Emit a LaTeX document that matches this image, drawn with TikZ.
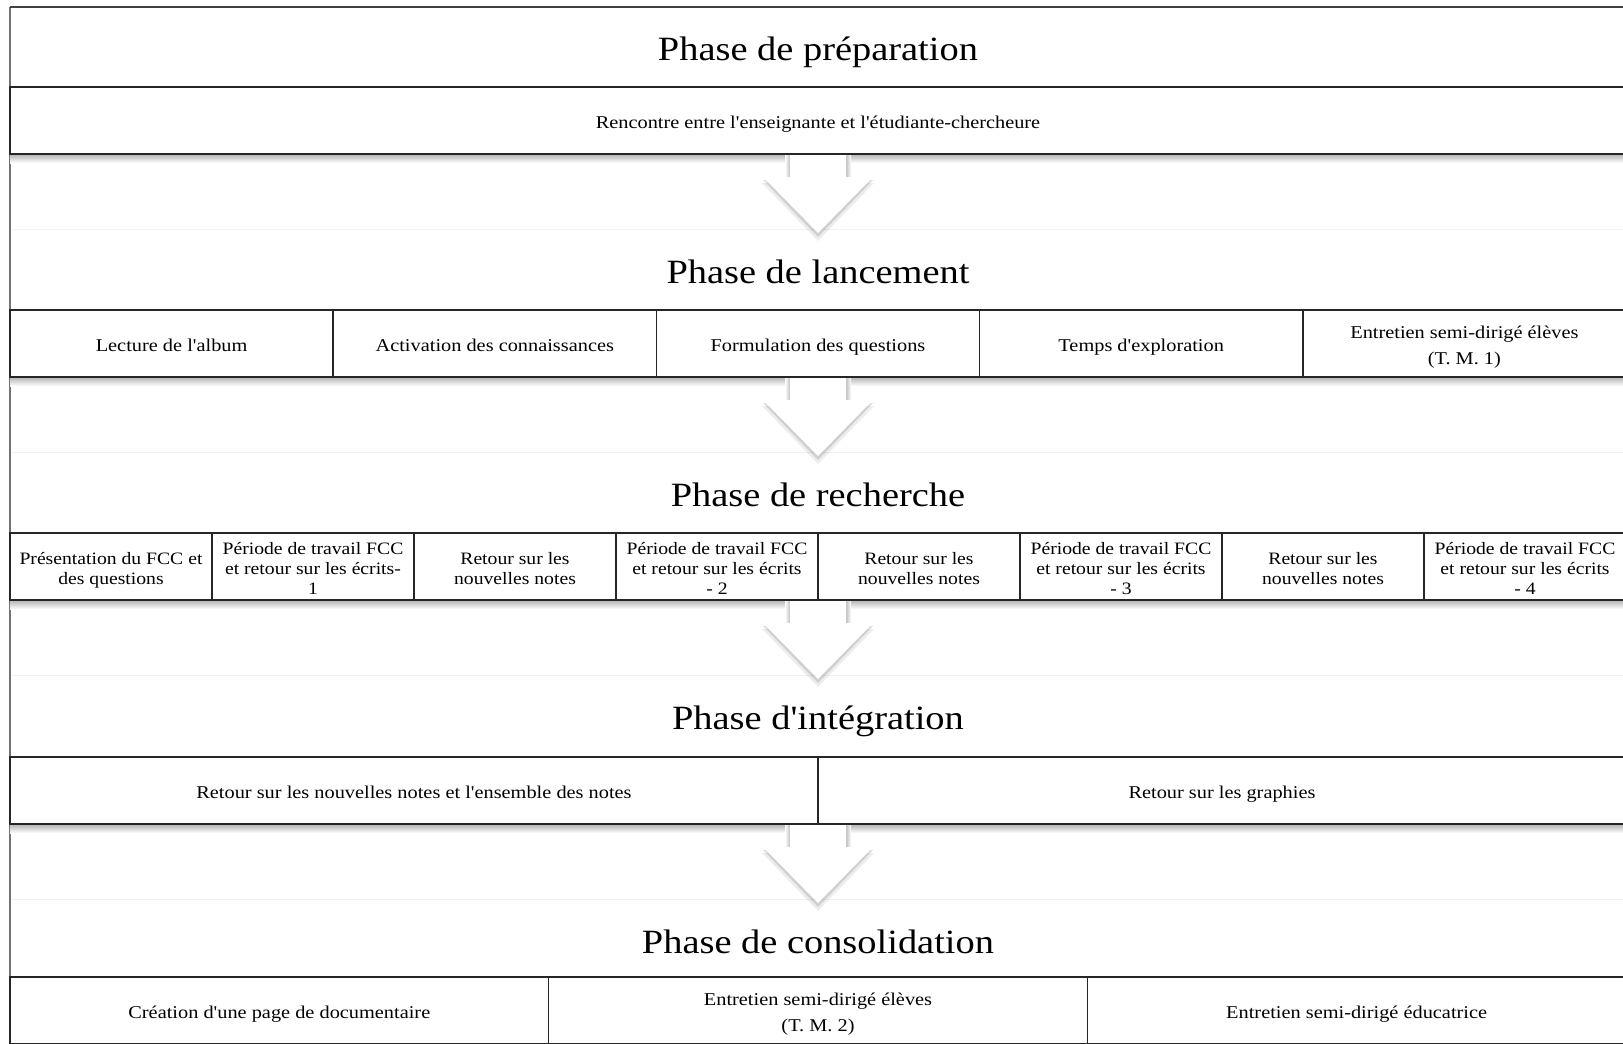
\documentclass[tikz,border=0pt]{standalone}
\usepackage{fontspec}
\setmainfont{Liberation Serif}[Ligatures=TeXOff, FakeStretch=1.13]
\begin{document}
\begin{tikzpicture}[x=1pt,y=-1pt,
  cellbase/.style={draw=black!85, line width=1.6pt, anchor=north west, minimum height=67pt,
    inner sep=0pt, outer sep=0pt, align=center, font=\fontsize{18}{20.3}\selectfont},
  cellh/.style={cellbase, execute at begin node={\rule{0pt}{#1}}, execute at end node={\rule[-5pt]{0pt}{5pt}}},
  cell/.style={cellh=21pt},
  twowide/.style={cellh=47.3pt},
  twonarrow/.style={cellh=41.3pt, small},
  three/.style={cellh=61.6pt, small},
  small/.style={font=\fontsize{17.4}{20.3}\selectfont},
  phasetitle/.style={font=\fontsize{34}{40}\selectfont, inner sep=0pt, text height=23pt, text depth=0pt},
  boxshadow/.style={top color=black!30, bottom color=white, draw=none},
]
\useasboundingbox (0,0) rectangle (1623,1044);
\fill[white] (0,0) rectangle (1623,1044);

% faint guide lines
\foreach \yy in {229,452,675,899}
  \draw[black!5, line width=1pt] (10,\yy) -- (1626,\yy);

% left frame line and top line
\draw[black!55, line width=1.5pt] (10,7) -- (10,1044);
\draw[black!75, line width=1.3pt] (10,7) -- (1626,7);

% shadows below rows
\foreach \yy in {154,377,600,824}
  \shade[boxshadow] (10,\yy) rectangle (1626,\yy+9);

% titles
\node[phasetitle] (t1) at (818,49) {Phase de préparation};
\node[phasetitle] (t2) at (818,272) {Phase de lancement};
\node[phasetitle] (t3) at (818,495) {Phase de recherche};
\node[phasetitle] (t4) at (818,718) {Phase d'intégration};
\node[phasetitle] (t5) at (818,942) {Phase de consolidation};

% row 1
\node[cell, minimum width=1616pt] (r1) at (10,87) {Rencontre entre l'enseignante et l'étudiante-chercheure};

% row 2
\node[cell, minimum width=323.2pt] (r2a) at (10,310) {Lecture de l'album};
\node[cell, minimum width=323.2pt] (r2b) at (333.2,310) {Activation des connaissances};
\node[cell, minimum width=323.2pt] (r2c) at (656.4,310) {Formulation des questions};
\node[cell, minimum width=323.2pt] (r2d) at (979.6,310) {Temps d'exploration};
\node[twowide, minimum width=323.2pt] (r2e) at (1302.8,310) {Entretien semi-dirigé élèves\\[6pt](T. M. 1)};

% row 3
\node[twonarrow, minimum width=202pt] (r3a) at (10,533) {Présentation du FCC et\\des questions};
\node[three, minimum width=202pt] (r3b) at (212,533) {Période de travail FCC\\et retour sur les écrits-\\1};
\node[twonarrow, minimum width=202pt] (r3c) at (414,533) {Retour sur les\\nouvelles notes};
\node[three, minimum width=202pt] (r3d) at (616,533) {Période de travail FCC\\et retour sur les écrits\\- 2};
\node[twonarrow, minimum width=202pt] (r3e) at (818,533) {Retour sur les\\nouvelles notes};
\node[three, minimum width=202pt] (r3f) at (1020,533) {Période de travail FCC\\et retour sur les écrits\\- 3};
\node[twonarrow, minimum width=202pt] (r3g) at (1222,533) {Retour sur les\\nouvelles notes};
\node[three, minimum width=202pt] (r3h) at (1424,533) {Période de travail FCC\\et retour sur les écrits\\- 4};

% row 4
\node[cell, minimum width=808pt] (r4a) at (10,757) {Retour sur les nouvelles notes et l'ensemble des notes};
\node[cell, minimum width=808pt] (r4b) at (818,757) {Retour sur les graphies};

% row 5
\node[cell, minimum width=538.67pt] (r5a) at (10,977) {Création d'une page de documentaire};
\node[twowide, minimum width=538.67pt] (r5b) at (548.67,977) {Entretien semi-dirigé élèves\\[6pt](T. M. 2)};
\node[cell, minimum width=538.67pt] (r5c) at (1087.33,977) {Entretien semi-dirigé éducatrice};

% block arrows between phases
\coordinate (a1) at (r1.south);
\coordinate (a2) at (r2c.south);
\coordinate (a3) at (r3d.south east);
\coordinate (a4) at (r4a.south east);
\foreach \a in {a1,a2,a3,a4}{
  \begin{scope}[shift={(\a)}]
    \fill[black, opacity=.07] (-56,29) -- (56,29) -- (0,87) -- cycle;
    \fill[black, opacity=.12] (-55,26) -- (55,26) -- (0,83) -- cycle;
    \shade[left color=white, right color=black!25] (-33,1) rectangle (-28,23);
    \shade[left color=black!25, right color=white] (28,1) rectangle (33,23);
    \fill[white] (-28,1) -- (28,1) -- (28,23) -- (55,23) -- (0,79) -- (-55,23) -- (-28,23) -- cycle;
  \end{scope}
}
\end{tikzpicture}
\end{document}
